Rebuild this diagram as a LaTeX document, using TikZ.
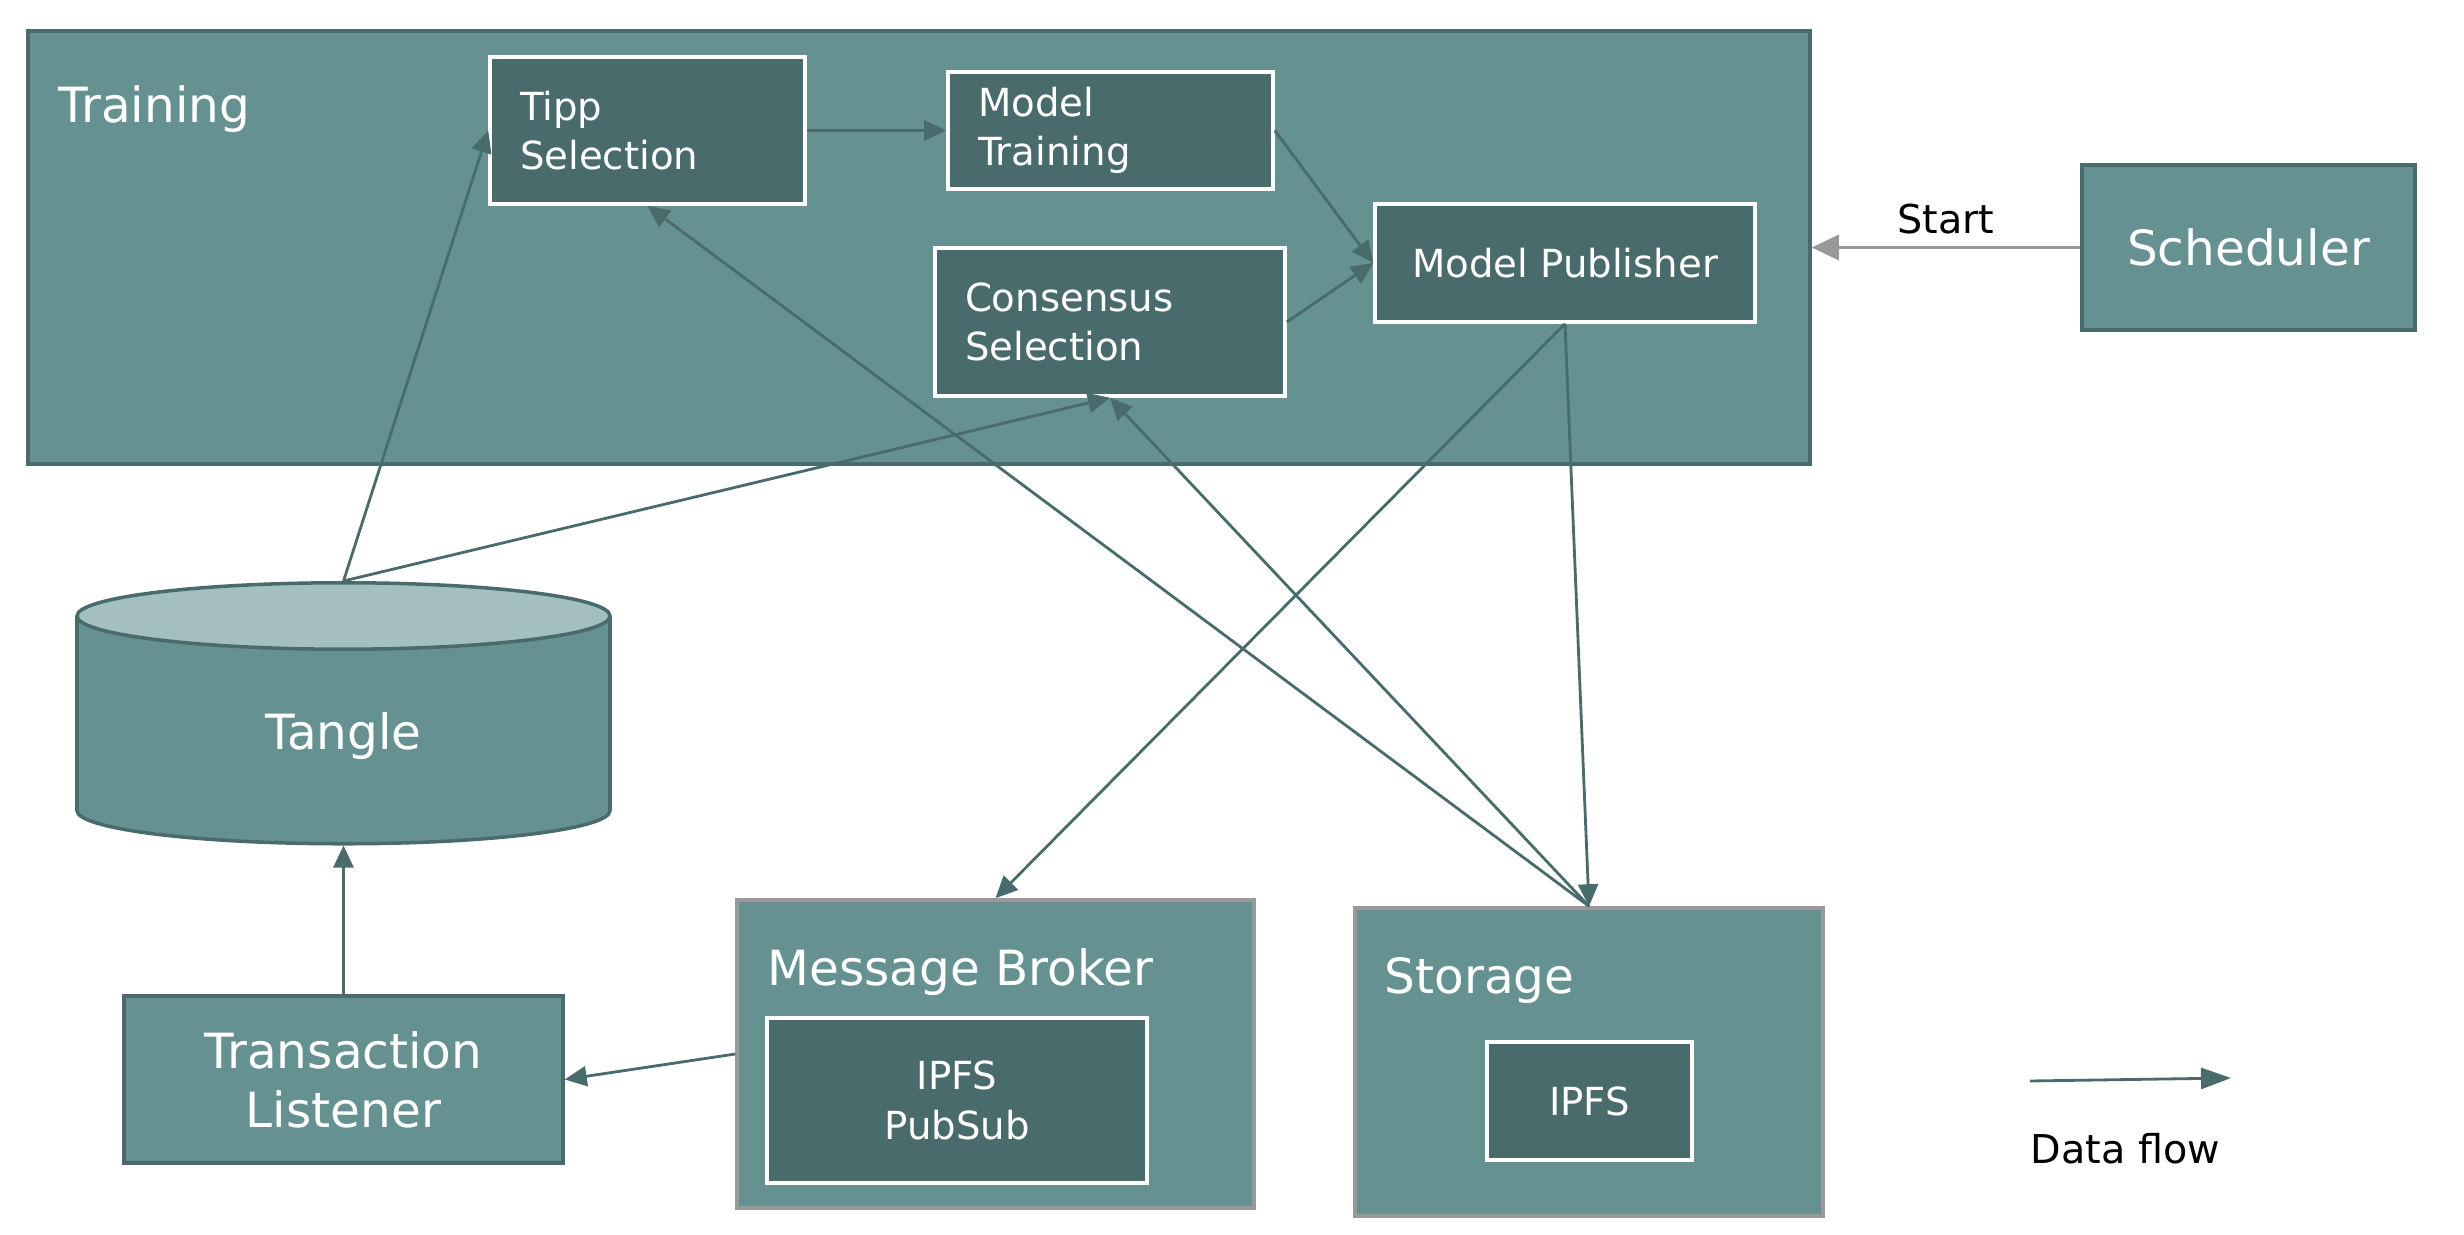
\documentclass[tikz,border=0pt]{standalone}
\usepackage{fontspec}
\setmainfont{DejaVu Sans}
\usetikzlibrary{
  shapes.geometric,
  arrows.meta
}
\definecolor{tealmid}{HTML}{669191}
\definecolor{tealdark}{HTML}{4A6B6B}
\definecolor{teallight}{HTML}{A3BFBF}
\definecolor{startgray}{HTML}{999999}

\begin{document}
\begin{tikzpicture}[
  every node/.style = {font=\fontsize{13.8}{16.8}\selectfont, text=white},
  outer/.style = {shape=rectangle, draw=tealdark, line width=1pt, fill=tealmid},
  greyouter/.style = {outer, draw=startgray},
  inner/.style = {shape=rectangle, draw=white, line width=1pt, fill=tealdark,
    font=\fontsize{11}{14}\selectfont},
  blacktext/.style = {text=black, font=\fontsize{11.3}{14}\selectfont}]
  \tikzstyle{flow}=[draw=tealdark, line width=0.8pt, -{Triangle[length=0.22cm, width=0.2cm]}]
  \tikzstyle{startflow}=[draw=startgray, line width=0.9pt, -{Triangle[length=0.27cm, width=0.25cm]}]
  \useasboundingbox (0,0) rectangle (24.64,12.34);

  % training block
  \node[outer, minimum width=17.82cm, minimum height=4.33cm] (training) at (9.19,9.865) {};
  \node[anchor=base west, inner sep=0pt] (traininglabel) at (0.58,11.12) {Training};
  \node[inner, text width=2.55cm, inner xsep=0.3cm, align=left, minimum height=1.47cm]
    (tipp) at (6.475,11.035) {Tipp\\Selection};
  \node[inner, text width=2.65cm, inner xsep=0.3cm, align=left, minimum height=1.17cm]
    (modeltrain) at (11.105,11.035) {Model\\Training};
  \node[inner, text width=2.9cm, inner xsep=0.3cm, align=left, minimum height=1.48cm]
    (consensus) at (11.10,9.12) {Consensus\\Selection};
  \node[inner, minimum width=3.8cm, minimum height=1.18cm] (publisher) at (15.65,9.71) {Model Publisher};

  \node[outer, minimum width=3.33cm, minimum height=1.65cm] (scheduler) at (22.485,9.865) {Scheduler};

  % tangle
  \node[cylinder, shape border rotate=90, aspect=0.37, draw=tealdark, line width=1pt,
    minimum width=5.33cm, minimum height=2.61cm, cylinder uses custom fill,
    cylinder body fill=tealmid, cylinder end fill=teallight, anchor=north] (tangle) at (3.435,6.53) {Tangle};
  \node[outer, minimum width=4.39cm, minimum height=1.67cm, align=center]
    (listener) at (3.435,1.545) {Transaction\\Listener};

  % message broker
  \node[greyouter, minimum width=5.17cm, minimum height=3.08cm] (broker) at (9.955,1.80) {};
  \node[anchor=base west, inner sep=0pt] (brokerlabel) at (7.67,2.49) {Message Broker};
  \node[inner, minimum width=3.8cm, minimum height=1.65cm, align=center] (pubsub) at (9.57,1.335) {IPFS\\PubSub};

  % storage
  \node[greyouter, minimum width=4.68cm, minimum height=3.08cm] (storage) at (15.89,1.72) {};
  \node[anchor=base west, inner sep=0pt] (storagelabel) at (13.84,2.41) {Storage};
  \node[inner, minimum width=2.05cm, minimum height=1.18cm] (ipfs) at (15.895,1.33) {IPFS};

  % data flow
  \draw[flow] (tangle.north) -- (tipp.west);
  \draw[flow] (tangle.north) -- (consensus.south);
  \draw[flow] (tipp.east) -- (modeltrain.west);
  \draw[flow] (modeltrain.east) -- (publisher.west);
  \draw[flow] (consensus.east) -- (publisher.west);
  \draw[flow] (publisher.south) -- (broker.north);
  \draw[flow] (publisher.south) -- (storage.north);
  \draw[flow] (storage.north) -- (tipp.south);
  \draw[flow] (storage.north) -- (consensus.south);
  \draw[flow] (broker.west) -- (listener.east);
  \draw[flow] (listener.north) -- (tangle.south);
  \draw[startflow] (scheduler.west) -- node[above, blacktext] (startlabel) {Start} (training.east);

  % legend
  \coordinate (legstart) at (20.30,1.53);
  \coordinate (legend) at (22.31,1.56);
  \draw[flow, -{Triangle[length=0.3cm, width=0.21cm]}] (legstart) -- (legend);
  \node[blacktext, anchor=base west, inner sep=0pt] (legtext) at (20.30,0.71) {Data flow};
\end{tikzpicture}
\end{document}
